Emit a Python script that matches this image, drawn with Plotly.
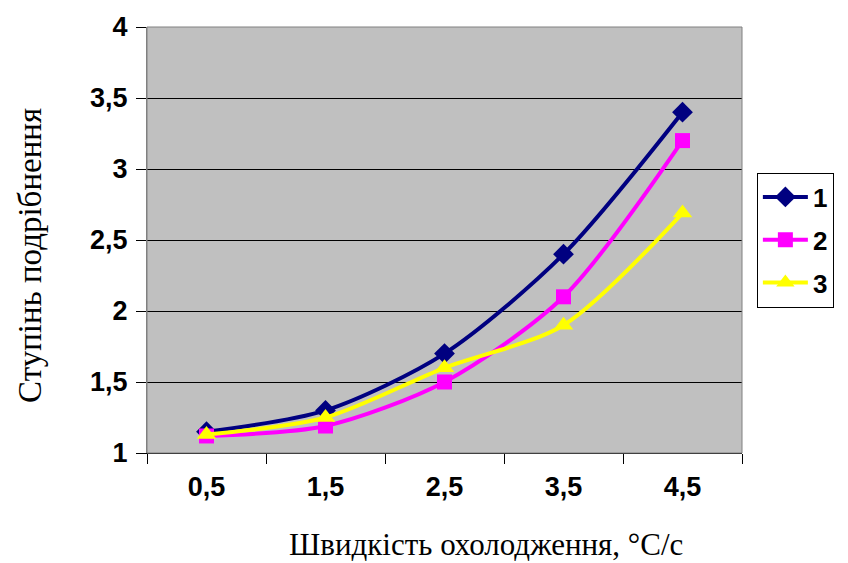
import plotly.graph_objects as go

categories = ["0,5", "1,5", "2,5", "3,5", "4,5"]
series1 = [1.15, 1.30, 1.70, 2.40, 3.40]
series2 = [1.12, 1.19, 1.50, 2.10, 3.20]
series3 = [1.13, 1.25, 1.60, 1.90, 2.69]
names = ["1", "2", "3"]
y_ticks = [1, 1.5, 2, 2.5, 3, 3.5, 4]
y_labels = ["1", "1,5", "2", "2,5", "3", "3,5", "4"]

colors = ["#000080", "#FF00FF", "#FFFF00"]
symbols = ["diamond", "square", "triangle-up"]
msizes = [16, 15, 17]

fig = go.Figure()
for i, (vals, nm) in enumerate(zip([series1, series2, series3], names)):
    fig.add_trace(go.Scatter(
        x=categories, y=vals, name="<b>" + nm + "</b>", mode="lines+markers",
        line=dict(color=colors[i], width=4, shape="spline", smoothing=0.8),
        marker=dict(symbol=symbols[i], size=msizes[i], color=colors[i]),
        legendgroup=nm,
    ))

fig.update_layout(
    width=848, height=563,
    margin=dict(l=147, r=106, t=25, b=110),
    paper_bgcolor="white", plot_bgcolor="#C0C0C0",
    showlegend=True,
    legend=dict(
        x=1.025, xanchor="left", y=0.5, yanchor="middle",
        bgcolor="white", bordercolor="black", borderwidth=1,
        font=dict(family="Liberation Sans", size=26, color="black"),
        tracegroupgap=6, itemwidth=45,
    ),
    xaxis=dict(
        type="category", tickson="boundaries", ticks="outside", ticklen=10,
        range=[-0.5, 4.5],
        tickcolor="black", showline=True, linecolor="black", linewidth=1,
        showgrid=False, ticklabelstandoff=10,
        tickvals=categories, ticktext=["<b>" + c + "</b>" for c in categories],
        tickfont=dict(family="Liberation Sans", size=27, color="black"),
    ),
    yaxis=dict(
        range=[1, 4], tickvals=y_ticks, ticktext=["<b>" + t + "</b>" for t in y_labels],
        ticks="outside", ticklen=10, tickcolor="black", showline=True, linecolor="#808080",
        showgrid=True, gridcolor="black", gridwidth=1, zeroline=False,
        ticklabelstandoff=3,
        tickfont=dict(family="Liberation Sans", size=27, color="black"),
    ),
)
fig.add_annotation(text="Швидкість охолодження, °C/c", xref="paper", yref="paper",
                   x=(486 - 147) / 595, y=-(545 - 453) / 428, xanchor="center", yanchor="middle",
                   showarrow=False, font=dict(family="Liberation Serif", size=31, color="black"))
fig.add_annotation(text="Ступінь подрібнення", xref="paper", yref="paper",
                   x=-(147 - 30) / 595, y=(453 - 255) / 428, xanchor="center", yanchor="middle",
                   textangle=-90, showarrow=False,
                   font=dict(family="Liberation Serif", size=33, color="black"))
fig.add_shape(type="rect", xref="paper", yref="paper", x0=0, y0=0, x1=1, y1=1,
              line=dict(color="#808080", width=1), layer="above")
fig.write_html("out.html")
